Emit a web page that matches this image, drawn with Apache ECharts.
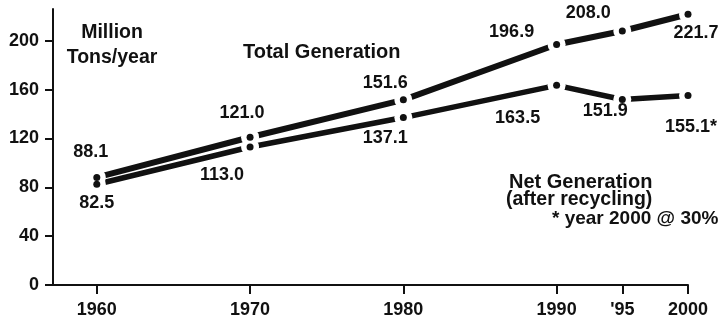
<!DOCTYPE html>
<html>
<head>
<meta charset="utf-8">
<script src="https://cdn.jsdelivr.net/npm/echarts@6/dist/echarts.min.js"></script>
<style>
  html, body { margin: 0; padding: 0; background: #fff; }
  #chart { width: 723px; height: 324px; }
</style>
</head>
<body>
<div id="chart"></div>
<script>
// Municipal solid waste, million tons per year
const years = ['1960', '1970', '1980', '1990', "'95", '2000'];
const totalGeneration = [88.1, 121.0, 151.6, 196.9, 208.0, 221.7];
const netGeneration = [82.5, 113.0, 137.1, 163.5, 151.9, 155.1];
const netMarks = ['', '', '', '', '', '*'];
const yTicks = [0, 40, 80, 120, 160, 200];

// Horizontal layout: number of category slots before each year
// (the 1990s decade is drawn narrower than the earlier ones)
const slotGaps = [2, 7, 7, 7, 3, 3];
// Label offsets (px) from each point
const totalLabelOffsets = [[-6, -25], [-8, -24], [-18, -17], [-45, -13], [-34, -18], [8, 19]];
const netLabelOffsets = [[0, 19], [-28, 28], [-18, 20], [-39, 33], [-17, 12], [3, 31]];

const slotIndex = [];
let acc = 0;
slotGaps.forEach(g => { acc += g; slotIndex.push(acc); });
const slotCount = slotIndex[slotIndex.length - 1] + 1;
const categories = new Array(slotCount).fill('');
slotIndex.forEach((s, i) => { categories[s] = years[i]; });

const ink = '#111';
const font = "'Liberation Sans', Arial, Helvetica, sans-serif";

const pts = vals => vals.map((v, i) => [slotIndex[i], v]);

function dotData(vals, offsets, marks) {
  return vals.map((v, i) => ({
    value: [slotIndex[i], v],
    label: {
      offset: offsets[i],
      formatter: v.toFixed(1) + (marks ? marks[i] : '')
    }
  }));
}

const valueLabel = {
  show: true,
  position: 'inside',
  align: 'center',
  verticalAlign: 'middle',
  color: ink,
  fontFamily: font,
  fontWeight: 'bold',
  fontSize: 18
};

function caption(text, x, y, size, align) {
  return {
    type: 'text', x: x, y: y,
    style: { text: text, align: align, verticalAlign: 'middle', fill: ink, font: 'bold ' + size + 'px ' + font }
  };
}

const chart = echarts.init(document.getElementById('chart'));
chart.setOption({
  animation: false,
  backgroundColor: '#fff',
  grid: { left: 53, right: 35, top: 9, bottom: 39 },
  xAxis: {
    type: 'category',
    data: categories,
    boundaryGap: false,
    axisLine: { lineStyle: { color: ink, width: 2 } },
    axisTick: {
      show: true,
      length: 9,
      lineStyle: { color: ink, width: 2 },
      interval: (idx, val) => val !== ''
    },
    axisLabel: {
      interval: (idx, val) => val !== '',
      margin: 16,
      color: ink,
      fontFamily: font,
      fontWeight: 'bold',
      fontSize: 18
    },
    splitLine: { show: false }
  },
  yAxis: {
    type: 'value',
    min: 0,
    max: 226,
    interval: 40,
    axisLine: { show: true, lineStyle: { color: ink, width: 2 } },
    axisTick: { show: true, length: 8, customValues: yTicks, lineStyle: { color: ink, width: 2 } },
    axisLabel: {
      customValues: yTicks,
      margin: 14,
      color: ink,
      fontFamily: font,
      fontWeight: 'bold',
      fontSize: 18
    },
    splitLine: { show: false }
  },
  series: [
    {
      name: 'Total Generation',
      type: 'line',
      data: pts(totalGeneration),
      showSymbol: false,
      z: 2,
      lineStyle: { color: ink, width: 6, cap: 'butt' }
    },
    {
      name: 'Net Generation',
      type: 'line',
      data: pts(netGeneration),
      showSymbol: false,
      z: 2,
      lineStyle: { color: ink, width: 5.5, cap: 'butt' }
    },
    // white rings that open a gap in the lines around each point
    {
      type: 'scatter',
      data: pts(totalGeneration),
      symbol: 'circle',
      symbolSize: 18,
      itemStyle: { color: '#fff', opacity: 1 },
      z: 3,
      silent: true
    },
    {
      type: 'scatter',
      data: pts(netGeneration),
      symbol: 'circle',
      symbolSize: 18,
      itemStyle: { color: '#fff', opacity: 1 },
      z: 3,
      silent: true
    },
    // point dots with their values
    {
      type: 'scatter',
      data: dotData(totalGeneration, totalLabelOffsets),
      symbol: 'circle',
      symbolSize: 7,
      itemStyle: { color: ink, opacity: 1 },
      label: valueLabel,
      z: 4
    },
    {
      type: 'scatter',
      data: dotData(netGeneration, netLabelOffsets, netMarks),
      symbol: 'circle',
      symbolSize: 7,
      itemStyle: { color: ink, opacity: 1 },
      label: valueLabel,
      z: 4
    }
  ],
  graphic: [
    caption('Million', 112, 33, 19.5, 'center'),
    caption('Tons/year', 112, 58, 19.5, 'center'),
    caption('Total Generation', 243, 52, 20, 'left'),
    caption('Net Generation', 509, 182, 20, 'left'),
    caption('(after recycling)', 506, 200, 19.5, 'left'),
    caption('* year 2000 @ 30%', 552, 219, 19, 'left')
  ]
});
</script>
</body>
</html>
